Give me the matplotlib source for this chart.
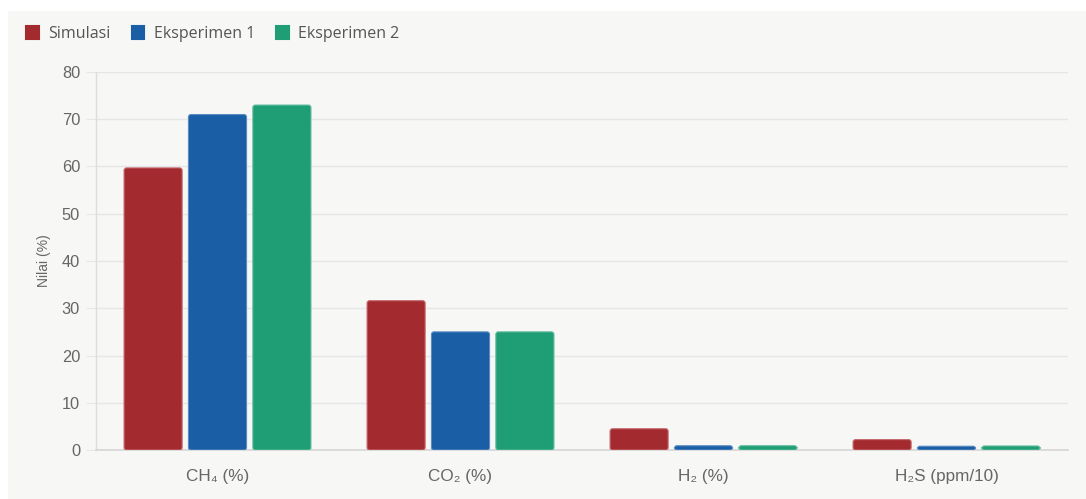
import matplotlib
matplotlib.use("Agg")
import matplotlib.pyplot as plt
from matplotlib.patches import Rectangle, FancyBboxPatch, Patch
import numpy as np

categories = ["CH\u2084 (%)", "CO\u2082 (%)", "H\u2082 (%)", "H\u2082S (ppm/10)"]
series_names = ["Simulasi", "Eksperimen 1", "Eksperimen 2"]
simulasi = [59.7, 31.6, 4.5, 2.2]
eksperimen1 = [71.0, 25.0, 0.9, 0.8]
eksperimen2 = [73.0, 25.0, 0.9, 0.85]
y_ticks = [0, 10, 20, 30, 40, 50, 60, 70, 80]
y_label = "Nilai (%)"

colors = ["#a32a2e", "#1a5ea5", "#1f9e75"]
edges = ["#c46a6d", "#5a8bc2", "#5dbb9b"]

plt.rcParams['font.family'] = ['Liberation Sans', 'DejaVu Sans']

fig = plt.figure(figsize=(10.86, 4.99), dpi=100)
fig.patch.set_facecolor("white")
W, H = 1086, 499
bg = Rectangle((8 / W, 0), 1 - 8 / W, 1 - 11 / H, transform=fig.transFigure,
               facecolor="#f7f7f6", edgecolor="none", zorder=-10)
fig.patches.append(bg)

ax = fig.add_axes([96 / W, 49 / H, (1068 - 96) / W, (450 - 72) / H])
ax.set_facecolor("none")
ax.set_zorder(1)

x = np.arange(len(categories))
width = 0.239
offset = 0.265
all_series = [simulasi, eksperimen1, eksperimen2]
px_x = 972 / 4.0
px_y = 378 / 80.0
r_px = 2.5
for i, (vals, name) in enumerate(zip(all_series, series_names)):
    bars = ax.bar(x + (i - 1) * offset, vals, width, color=colors[i], zorder=3)
    for b in bars:
        b.set_visible(False)
        bx, by = b.get_x(), b.get_y()
        bw, bh = b.get_width(), b.get_height()
        fp = FancyBboxPatch((bx, by), bw, bh,
                            boxstyle=f"round,pad=0,rounding_size={r_px / px_x}",
                            mutation_aspect=(px_x / px_y),
                            facecolor=colors[i], edgecolor=edges[i], linewidth=0.8, zorder=3)
        ax.add_patch(fp)

ax.set_xlim(-0.5, len(categories) - 0.5)
ax.set_ylim(0, 80)
ax.set_yticks(y_ticks)
ax.set_yticklabels([str(t) for t in y_ticks])
ax.set_xticks(x)
ax.set_xticklabels(categories)

ax.grid(axis="y", color="#e6e6e6", linewidth=1.0, zorder=0)
ax.set_axisbelow(True)
for s in ["top", "right"]:
    ax.spines[s].set_visible(False)
ax.spines["left"].set_color("#dddddd")
ax.spines["bottom"].set_color("#d6d6d6")
ax.spines["left"].set_linewidth(1.0)
ax.spines["bottom"].set_linewidth(1.2)
ax.tick_params(axis="y", length=7.2, color="#e6e6e6", labelsize=11.8, labelcolor="#666666", pad=4.3)
ax.tick_params(axis="x", length=0, labelsize=12.3, labelcolor="#666666", pad=14)

ax.set_ylabel(y_label, fontsize=10, color="#666666", labelpad=8)

handles = [Patch(facecolor=c, edgecolor=c, label=n, joinstyle="round", linewidth=1.5)
           for c, n in zip(colors, series_names)]
leg = ax.legend(handles=handles, loc="upper left", bbox_to_anchor=(26 / W, 1 - 26 / H),
                bbox_transform=fig.transFigure,
                ncol=3, frameon=False, handlelength=0.8, handleheight=0.8,
                handletextpad=0.6, columnspacing=1.3, borderaxespad=0, borderpad=0,
                prop={'family': ['Open Sans', 'DejaVu Sans'], 'size': 11.5})
for t in leg.get_texts():
    t.set_color("#555555")

fig.savefig("out.png", dpi=100, facecolor=fig.get_facecolor())
